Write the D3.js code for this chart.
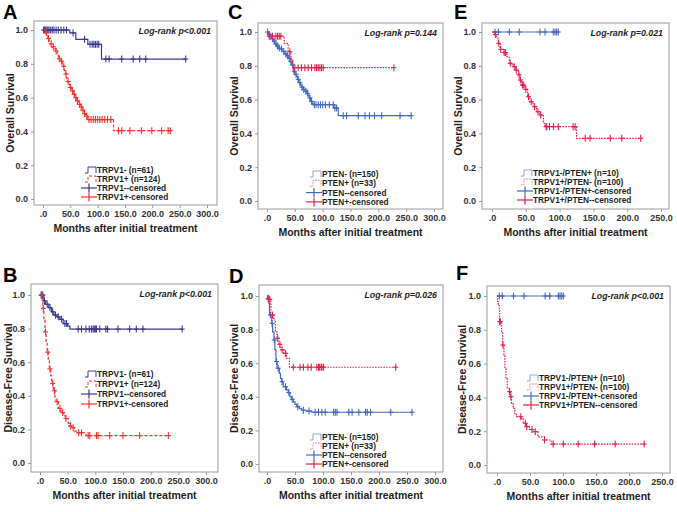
<!DOCTYPE html>
<html>
<head>
<meta charset="utf-8">
<script src="https://cdn.jsdelivr.net/npm/d3@7"></script>
<style>
  body { margin:0; background:#fff; }
  svg { display:block; }
  text { font-family: "Liberation Sans", Arial, sans-serif; }
</style>
</head>
<body>
<svg id="chart" width="677" height="512"></svg>
<script>
// --- data (months, survival) ---
const xTicks300 = [0,50,100,150,200,250,300];
const xTicks250 = [0,50,100,150,200,250];
const yTicks = [0,0.2,0.4,0.6,0.8,1.0];

const legendTRPV1 = ['TRPV1- (n=61)','TRPV1+ (n=124)','TRPV1--censored','TRPV1+-censored'];
const legendPTEN  = ['PTEN- (n=150)','PTEN+ (n=33)','PTEN--censored','PTEN+-censored'];
const legendCombo = ['TRPV1-/PTEN+ (n=10)','TRPV1+/PTEN- (n=100)','TRPV1-/PTEN+-censored','TRPV1+/PTEN--censored'];

// A: OS by TRPV1
const aNegSteps = [[0,1],[49,0.983],[60,0.945],[82,0.915],[107,0.828]];
const aNegCens  = [1,3,5,7,9,11,14,17,20,24,28,33,38,43,55,76,86,90,93,96,99,102,115,121,144,165,177,188,261];
const aPosSteps = [[0,1],[4,0.985],[7,0.965],[9,0.95],[11,0.935],[13,0.918],[16,0.9],[20,0.89],[23,0.875],[26,0.85],[28,0.83],[31,0.815],[35,0.8],[37,0.785],[39,0.76],[41,0.74],[43,0.715],[45,0.695],[47,0.68],[49,0.66],[52,0.64],[55,0.62],[58,0.6],[61,0.58],[65,0.56],[68,0.545],[72,0.525],[75,0.505],[78,0.49],[81,0.47],[129,0.404]];
const aPosCens  = [6,10,15,19,24,30,34,38,42,46,50,54,57,60,63,67,70,73,76,80,84,88,92,96,100,104,108,113,118,124,138,144,159,180,199,217,229,233];

// B: DFS by TRPV1
const bNegSteps = [[0,1],[7,0.965],[10,0.945],[16,0.925],[21,0.9],[25,0.88],[31,0.87],[36,0.855],[42,0.83],[50,0.815],[54,0.797]];
const bNegCens  = [2,4,5,8,13,18,23,28,33,39,45,48,69,75,83,89,93,96,98,100,102,108,119,122,141,162,174,186,257];
const bPosSteps = [[0,1],[4,0.96],[5,0.92],[7,0.85],[9,0.78],[11,0.72],[13,0.66],[15,0.61],[17,0.56],[19.5,0.52],[21,0.474],[24,0.43],[27,0.39],[29,0.365],[33,0.325],[37,0.31],[40,0.3],[43,0.28],[46,0.265],[51,0.236],[54,0.22],[57,0.21],[62,0.19],[66,0.18],[83,0.163]];
const bPosCens  = [3,6,10,14,18,23,26,31,36,41,47,55,60,70,75,87,90,102,105,126,150,180,232];

// C: OS by PTEN
const cNegSteps = [[0,1],[3,0.985],[5,0.975],[8,0.96],[11,0.946],[14,0.93],[17,0.917],[20,0.905],[23,0.9],[27,0.885],[32,0.87],[35,0.86],[38,0.845],[41,0.825],[44,0.805],[47,0.765],[50,0.75],[53,0.736],[55,0.72],[57,0.7],[60,0.685],[62,0.673],[65,0.66],[68,0.65],[71,0.637],[74,0.624],[76,0.61],[78,0.59],[81,0.578],[83,0.57],[120,0.55],[128,0.505]];
const cNegCens  = [1,4,7,10,13,16,19,22,26,30,34,37,40,43,46,49,52,56,59,63,66,70,73,77,80,85,88,92,96,100,105,112,119,122,125,137,143,164,176,184,193,206,239,259];
const cPosSteps = [[0,1],[3,0.975],[31,0.933],[38,0.883],[43,0.838],[46,0.789]];
const cPosCens  = [4,10,16,19,22,25,41,50,56,62,68,74,80,86,89,92,95,98,101,228];

// D: DFS by PTEN
const dNegSteps = [[0,1],[1,0.986],[3,0.957],[4.5,0.887],[8.5,0.837],[10,0.787],[12.5,0.738],[14,0.68],[16,0.61],[18,0.57],[22,0.54],[24,0.51],[26,0.49],[29,0.46],[35,0.44],[38,0.425],[41,0.4],[44,0.385],[47,0.37],[50,0.355],[53,0.341],[58,0.33],[62,0.32],[70,0.315],[80,0.308]];
const dNegCens  = [2,6,9,13,17,20,27,33,39,45,55,65,75,86,92,98,104,119,122,125,146,152,164,176,179,185,221,259];
const dPosSteps = [[0,1],[1.5,0.98],[7,0.887],[12,0.857],[15,0.787],[18,0.748],[21,0.712],[25,0.679],[30,0.659],[35,0.629],[40,0.576]];
const dPosCens  = [3,5,10,19,23,27,33,47,59,65,73,79,89,92,94,97,98,101,230];

// E: OS by TRPV1/PTEN
const eNegSteps = [[0,1]];
const eNegCens  = [4.4,9.4,25.6,40.4,71,78.4,90.7,93.2,95.6,98];
const ePosSteps = [[0,1],[4,0.985],[7,0.963],[9.4,0.933],[12,0.897],[17,0.878],[22,0.854],[25.6,0.815],[29,0.805],[31.5,0.795],[35,0.775],[38.9,0.746],[41.3,0.716],[43.7,0.686],[48.6,0.661],[52.6,0.617],[56,0.587],[61,0.558],[66,0.528],[71,0.509],[76,0.46],[78.4,0.44],[125,0.371]];
const ePosCens  = [5,10,13,18,20,27,33,36,40,42,45,47,50,54,58,63,68,72,80,81,85,91,98,120,123,138,145,175,192,220];

// F: DFS by TRPV1/PTEN
const fNegSteps = [[0,1]];
const fNegCens  = [3.5,8,25,41,73,80,93,95.5,98,100.5];
const fPosSteps = [[0,1],[1,0.967],[2,0.95],[3.5,0.917],[4,0.848],[7,0.789],[8.5,0.71],[10.5,0.651],[12,0.572],[13.5,0.513],[15.5,0.454],[18.5,0.434],[20.5,0.404],[22,0.365],[24.5,0.335],[27,0.3],[29.5,0.286],[37,0.276],[39.5,0.247],[44.5,0.227],[49,0.21],[54.5,0.197],[62,0.167],[72,0.148],[82,0.124]];
const fPosCens  = [4,5,9,19,21,36,43,45,53,58,72,85,100.5,123,148,179,223];

// --- styles ---
const STY_AB = { neg:'#3a3a90', pos:'#ff2e2e', negLeg:'#3a3a90', posLeg:'#ff2e2e', posDash:'3,2', negDash:null };
const STY_CF = { neg:'#4468c2', pos:'#e5204e', negLeg:'#8aa6e0', posLeg:'#f07c98', posDash:'1.6,1.2', negDash:null };

// layout per panel: frame box, pixel of x=0 / x=max, pixel of y=0 / y=1, legend anchor
const panels = [
  {id:'A', box:[34,217,21,205], xr:[43,207], yr:[199,30], xMax:300, xt:xTicks300, ytitle:'Overall Survival',
   p:'Log-rank p<0.001', leg:legendTRPV1, legX:97, legY:170, legDy:9, sty:STY_AB,
   neg:[aNegSteps,aNegCens], pos:[aPosSteps,aPosCens], letter:[3,19], ytx:10},
  {id:'B', box:[31,218,284,472], xr:[40,206], yr:[463,295], xMax:300, xt:xTicks300, ytitle:'Disease-Free Survival',
   p:'Log-rank p<0.001', leg:legendTRPV1, legX:97, legY:374, legDy:10, sty:STY_AB,
   neg:[bNegSteps,bNegCens], pos:[bPosSteps,bPosCens], letter:[3,282], ytx:8},
  {id:'C', box:[258,443,23,209], xr:[267,434], yr:[201,32], xMax:300, xt:xTicks300, ytitle:'Overall Survival',
   p:'Log-rank p=0.144', leg:legendPTEN, legX:322, legY:174, legDy:9.3, sty:STY_CF,
   neg:[cNegSteps,cNegCens], pos:[cPosSteps,cPosCens], letter:[228,19], ytx:234},
  {id:'D', box:[259,443,285,472], xr:[267,435], yr:[464,296], xMax:300, xt:xTicks300, ytitle:'Disease-Free Survival',
   p:'Log-rank p=0.026', leg:legendPTEN, legX:322, legY:437, legDy:9, sty:STY_CF,
   neg:[dNegSteps,dNegCens], pos:[dPosSteps,dPosCens], letter:[229,283], ytx:234},
  {id:'E', box:[482,669,23,209], xr:[492,661], yr:[201,32], xMax:250, xt:xTicks250, ytitle:'Overall Survival',
   p:'Log-rank p=0.021', leg:legendCombo, legX:533, legY:173, legDy:9, sty:STY_CF,
   neg:[eNegSteps,eNegCens], pos:[ePosSteps,ePosCens], letter:[454,19], ytx:458},
  {id:'F', box:[487,670,286,473], xr:[497,662], yr:[465,296], xMax:250, xt:xTicks250, ytitle:'Disease-Free Survival',
   p:'Log-rank p<0.001', leg:legendCombo, legX:539, legY:378, legDy:9, sty:STY_CF,
   neg:[fNegSteps,fNegCens], pos:[fPosSteps,fPosCens], letter:[456,280], ytx:462}
];

const svg = d3.select('#chart');
const FRAME = '#9a9a9a', TXT = '#1e1e1e';

function survAt(steps, t){
  let s = steps[0][1];
  for (const [ti, si] of steps){ if (ti <= t) s = si; else break; }
  return s;
}

function drawPanel(P){
  const [l, r, t, b] = P.box;
  const x = d3.scaleLinear().domain([0, P.xMax]).range(P.xr);
  const y = d3.scaleLinear().domain([0, 1]).range(P.yr);
  const g = svg.append('g').attr('class', 'panel-' + P.id);

  // frame
  g.append('rect').attr('x', l).attr('y', t).attr('width', r - l).attr('height', b - t)
    .attr('fill', 'none').attr('stroke', FRAME).attr('stroke-width', 1);

  // axes
  const xAxis = d3.axisBottom(x).tickValues(P.xt).tickSize(3).tickPadding(3)
    .tickFormat(d => d === 0 ? '.0' : d.toFixed(1));
  const yAxis = d3.axisLeft(y).tickValues(yTicks).tickSize(3).tickPadding(3)
    .tickFormat(d => d.toFixed(1));
  const gx = g.append('g').attr('transform', `translate(0,${b})`).call(xAxis);
  const gy = g.append('g').attr('transform', `translate(${l},0)`).call(yAxis);
  [gx, gy].forEach(ax => {
    ax.select('.domain').remove();
    ax.selectAll('line').attr('stroke', FRAME);
    ax.selectAll('text').attr('fill', '#333').style('font-size', '9px').style('font-weight', 'bold');
  });

  // titles
  g.append('text').attr('x', (l + r) / 2).attr('y', b + 27).attr('text-anchor', 'middle')
    .attr('fill', TXT).style('font-size', '10.5px').style('font-weight', 'bold')
    .text('Months after initial treatment');
  g.append('text').attr('transform', `translate(${P.ytx},${(t + b) / 2}) rotate(-90)`)
    .attr('text-anchor', 'middle').attr('dy', '0.35em')
    .attr('fill', TXT).style('font-size', '10.5px').style('font-weight', 'bold')
    .text(P.ytitle);
  g.append('text').attr('x', P.letter[0]).attr('y', P.letter[1])
    .attr('fill', '#000').style('font-size', '20px').style('font-weight', 'bold').text(P.id);
  g.append('text').attr('x', r - 6).attr('y', t + 13).attr('text-anchor', 'end')
    .attr('fill', TXT).style('font-size', '8.8px').style('font-weight', 'bold').style('font-style', 'italic')
    .text(P.p);

  // curves
  const line = d3.line().x(d => x(d[0])).y(d => y(d[1])).curve(d3.curveStepAfter);
  const groups = [
    {data: P.neg, color: P.sty.neg, dash: P.sty.negDash},
    {data: P.pos, color: P.sty.pos, dash: P.sty.posDash}
  ];
  groups.forEach(G => {
    const [steps, cens] = G.data;
    const tEnd = Math.max(steps[steps.length - 1][0], d3.max(cens));
    const pts = steps.concat([[tEnd, steps[steps.length - 1][1]]]);
    g.append('path').datum(pts).attr('d', line).attr('fill', 'none')
      .attr('stroke', G.color).attr('stroke-width', 1.2)
      .attr('stroke-dasharray', G.dash);
    const cg = g.append('g');
    cg.selectAll('line.cv').data(cens).join('line').attr('class', 'cv')
      .attr('x1', d => x(d)).attr('x2', d => x(d))
      .attr('y1', d => y(survAt(steps, d)) - 3.5).attr('y2', d => y(survAt(steps, d)) + 3.5)
      .attr('stroke', G.color).attr('stroke-width', 1.1);
    cg.selectAll('line.ch').data(cens).join('line').attr('class', 'ch')
      .attr('x1', d => x(d) - 2.5).attr('x2', d => x(d) + 2.5)
      .attr('y1', d => y(survAt(steps, d))).attr('y2', d => y(survAt(steps, d)))
      .attr('stroke', G.color).attr('stroke-width', 1.1);
  });

  // legend
  const lg = g.append('g').attr('transform', `translate(${P.legX},0)`);
  const legColors = [P.sty.negLeg, P.sty.posLeg, P.sty.neg, P.sty.pos];
  P.leg.forEach((label, i) => {
    const cy = P.legY + i * P.legDy;
    const c = legColors[i];
    if (i < 2){
      lg.append('path')
        .attr('d', `M-12,${cy + 3}H-9V${cy - 3}H-1V${cy + 3}`)
        .attr('fill', 'none').attr('stroke', c).attr('stroke-width', 1)
        .attr('stroke-dasharray', i === 1 ? P.sty.posDash : null);
    } else {
      lg.append('line').attr('x1', -16).attr('x2', 0).attr('y1', cy).attr('y2', cy)
        .attr('stroke', c).attr('stroke-width', 1.2);
      lg.append('line').attr('x1', -8).attr('x2', -8).attr('y1', cy - 4.5).attr('y2', cy + 4.5)
        .attr('stroke', c).attr('stroke-width', 1.2);
    }
    lg.append('text').attr('x', 0).attr('y', cy).attr('dy', '0.35em')
      .attr('fill', TXT).style('font-size', '8.3px').style('font-weight', 'bold').text(label);
  });
}

panels.forEach(drawPanel);
</script>
</body>
</html>
